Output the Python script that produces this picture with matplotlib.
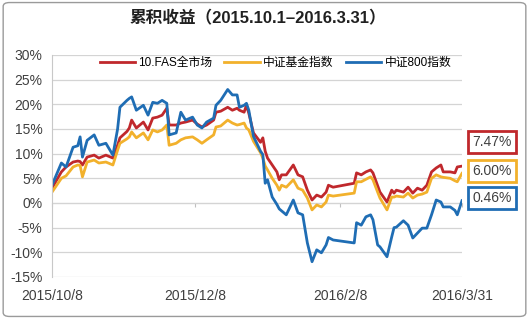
import numpy as np
import matplotlib.pyplot as plt
import matplotlib.dates as mdates
from matplotlib.patches import FancyBboxPatch

plt.rcParams['font.family'] = ['Liberation Sans', 'Noto Sans CJK SC', 'DejaVu Sans']

# cumulative returns (%)
dates = ['2015-10-08', '2015-10-12', '2015-10-14', '2015-10-17', '2015-10-19', '2015-10-20',
         '2015-10-21', '2015-10-23', '2015-10-26', '2015-10-28', '2015-10-31', '2015-11-03',
         '2015-11-05', '2015-11-06', '2015-11-09', '2015-11-10', '2015-11-11', '2015-11-13',
         '2015-11-16', '2015-11-18', '2015-11-20', '2015-11-22', '2015-11-24', '2015-11-26',
         '2015-11-27', '2015-11-30', '2015-12-02', '2015-12-04', '2015-12-07', '2015-12-09',
         '2015-12-11', '2015-12-13', '2015-12-16', '2015-12-17', '2015-12-19', '2015-12-22',
         '2015-12-24', '2015-12-26', '2015-12-27', '2015-12-29', '2015-12-30', '2015-12-31',
         '2016-01-02', '2016-01-05', '2016-01-06', '2016-01-07', '2016-01-08', '2016-01-10',
         '2016-01-12', '2016-01-13', '2016-01-14', '2016-01-16', '2016-01-19', '2016-01-21',
         '2016-01-23', '2016-01-25', '2016-01-27', '2016-01-29', '2016-01-31', '2016-02-02',
         '2016-02-03', '2016-02-05', '2016-02-14', '2016-02-15', '2016-02-17', '2016-02-19',
         '2016-02-21', '2016-02-22', '2016-02-24', '2016-02-25', '2016-02-28', '2016-03-01',
         '2016-03-02', '2016-03-03', '2016-03-06', '2016-03-08', '2016-03-10', '2016-03-12',
         '2016-03-14', '2016-03-16', '2016-03-18', '2016-03-20', '2016-03-22', '2016-03-23',
         '2016-03-26', '2016-03-28', '2016-03-29', '2016-03-31']

fas = [3.0, 6.3, 7.3, 8.3, 8.5, 8.4, 7.7, 9.3, 9.7, 9.1, 9.7, 9.1,
       11.7, 13.2, 14.5, 15.2, 16.8, 15.2, 16.4, 14.8, 17.2, 17.4, 17.8, 19.2,
       15.8, 15.8, 16.2, 16.4, 16.8, 16.0, 15.4, 15.8, 16.8, 18.4, 18.6, 19.4,
       18.8, 19.2, 18.8, 18.4, 19.8, 18.2, 14.2, 12.3, 13.2, 10.5, 9.1, 7.7,
       6.3, 4.7, 5.7, 5.7, 7.7, 5.7, 5.3, 2.6, 0.6, 1.6, 1.2, 2.2,
       3.6, 3.2, 4.0, 6.1, 5.7, 6.3, 6.7, 6.1, 3.5, 2.2, 0.2, 2.6,
       2.0, 2.6, 2.2, 3.2, 2.0, 3.0, 2.6, 3.6, 6.3, 7.1, 7.7, 6.3,
       6.3, 6.1, 7.3, 7.47]

fund = [2.2, 5.0, 5.5, 7.3, 7.7, 7.6, 5.3, 8.3, 8.7, 8.1, 8.3, 7.7,
        10.7, 12.1, 13.0, 13.4, 14.4, 13.2, 14.2, 12.8, 14.8, 14.4, 14.8, 15.8,
        11.7, 12.1, 12.8, 13.2, 13.4, 12.8, 12.1, 12.8, 13.8, 15.4, 15.6, 16.8,
        16.2, 15.8, 15.9, 16.2, 15.2, 14.8, 12.5, 10.2, 9.1, 7.5, 6.7, 5.0,
        3.6, 2.6, 3.6, 3.2, 4.7, 3.0, 2.6, 1.0, -1.4, -0.4, -0.8, 0.2,
        1.6, 1.4, 2.0, 4.3, 4.3, 4.8, 5.3, 4.7, 2.2, 1.0, -1.4, 1.2,
        1.2, 1.4, 1.2, 2.0, 1.0, 1.6, 1.8, 2.2, 5.0, 5.7, 5.3, 5.2,
        5.0, 4.5, 4.3, 6.00]

csi800 = [3.6, 8.1, 7.3, 11.3, 11.6, 13.4, 9.3, 12.7, 13.8, 11.7, 12.1, 9.7,
          15.0, 19.4, 20.8, 21.2, 21.5, 18.8, 19.8, 17.8, 20.4, 20.2, 20.8, 20.2,
          13.8, 14.2, 18.4, 16.8, 17.4, 15.8, 15.2, 16.4, 17.2, 19.8, 20.8, 23.0,
          21.9, 21.9, 19.4, 19.8, 20.2, 18.8, 13.5, 10.5, 9.8, 4.0, 4.7, 1.2,
          -0.3, -1.2, -1.6, -2.4, 0.6, -2.0, -2.4, -8.1, -11.9, -9.5, -10.1, -8.5,
          -7.0, -7.5, -8.1, -4.0, -4.5, -2.8, -2.4, -3.4, -8.5, -8.9, -10.9, -6.9,
          -5.0, -4.9, -3.6, -4.5, -7.1, -6.1, -5.1, -5.1, -2.4, 0.6, 0.2, -0.8,
          -0.8, -1.5, -2.4, 0.46]

names = ['10.FAS全市场', '中证基金指数', '中证800指数']
colors = ['#C0282C', '#F2B12C', '#1F6DB4']

tick_dates = ['2015-10-08', '2015-12-08', '2016-02-08', '2016-03-31']
tick_labels = ['2015/10/8', '2015/12/8', '2016/2/8', '2016/3/31']

x = np.array(dates, dtype='datetime64[D]')
ticks = np.array(tick_dates, dtype='datetime64[D]')

fig = plt.figure(figsize=(5.29, 3.19), dpi=100)
ax = fig.add_axes([0.0983, 0.1317, 0.775, 0.696])

for vals, name, c in zip([fas, fund, csi800], names, colors):
    ax.plot(x, vals, color=c, lw=2.0, label=name, solid_joinstyle='round')

ax.set_xlim(x[0], x[-1])
ax.set_ylim(-15, 30)
ax.set_yticks(np.arange(-15, 31, 5))
ax.set_yticklabels(['%d%%' % v for v in np.arange(-15, 31, 5)])
ax.set_xticks(ticks)
ax.set_xticklabels(tick_labels)
ax.tick_params(axis='both', length=0, labelsize=10, colors='#404040')
ax.tick_params(axis='y', pad=7)
ax.tick_params(axis='x', pad=9)
ax.grid(axis='y', color='#d4d4d4', lw=0.9)
ax.set_axisbelow(True)
for s in ['top', 'right', 'bottom']:
    ax.spines[s].set_visible(False)
ax.spines['left'].set_color('#c8c8c8')

# horizontal axis line at 0 with tick marks
sec = ax.secondary_xaxis(1 / 3)
sec.set_xticks(ticks)
sec.set_xticklabels([])
sec.tick_params(length=3, color='#c0c0c0', direction='out')
sec.spines['bottom'].set_color('#c8c8c8')

ax.legend(loc='center', bbox_to_anchor=(0.545, 0.962), ncol=3, frameon=False,
          fontsize=8.5, handlelength=3.0, handletextpad=0.3, columnspacing=1.0)

fig.text(0.488, 0.944, '累积收益（2015.10.1–2016.3.31）', ha='center', va='center',
         fontsize=12, color='#202020', fontweight='bold')

# end value boxes
for vals, c, yy in zip([fas, fund, csi800], colors, [0.555, 0.464, 0.379]):
    fig.text(0.930, yy, '%.2f%%' % vals[-1], ha='center', va='center', fontsize=10,
             color='#404040',
             bbox=dict(boxstyle='square,pad=0.28', fc='white', ec=c, lw=2))

frame = FancyBboxPatch((0.006, 0.008), 0.988, 0.984, boxstyle='round,pad=0,rounding_size=0.012',
                       transform=fig.transFigure, fill=False, ec='#9a9a9a', lw=1)
fig.patches.append(frame)

fig.savefig('out.png', dpi=100)
